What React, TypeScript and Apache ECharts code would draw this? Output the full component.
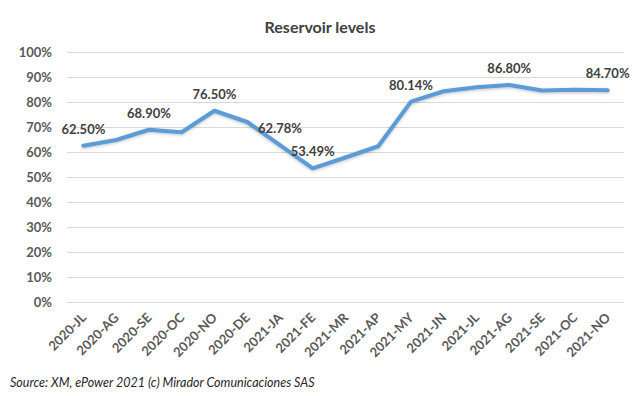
import React, { useEffect, useRef } from "react";
import * as echarts from "echarts";

const categories = [
  "2020-JL", "2020-AG", "2020-SE", "2020-OC", "2020-NO", "2020-DE",
  "2021-JA", "2021-FE", "2021-MR", "2021-AP", "2021-MY", "2021-JN",
  "2021-JL", "2021-AG", "2021-SE", "2021-OC", "2021-NO",
];
const levels = [
  62.5, 64.8, 68.9, 67.9, 76.5, 72.0, 62.78, 53.49, 57.8, 62.3, 80.14,
  84.3, 85.9, 86.8, 84.6, 84.9, 84.7,
];
const labeledIndices = [0, 2, 4, 6, 7, 10, 13, 16];
const yTicks = { min: 0, max: 100, interval: 10 };
const titleText = "Reservoir levels";
const sourceText = "Source: XM, ePower 2021 (c) Mirador Comunicaciones SAS";

const FONT = "Lato, 'Open Sans', sans-serif";

export default function App() {
  const ref = useRef<HTMLDivElement>(null);
  useEffect(() => {
    if (!ref.current) return;
    const chart = echarts.init(ref.current, null, { renderer: "svg" });
    chart.setOption({
      animation: false,
      backgroundColor: "#ffffff",
      title: {
        text: titleText,
        left: "center",
        top: 13,
        textStyle: { fontFamily: FONT, fontSize: 16, fontWeight: "bold", color: "#404040" },
      },
      graphic: [
        {
          type: "text",
          left: 10,
          top: 376,
          style: {
            text: sourceText,
            fontFamily: FONT,
            fontSize: 12.5,
            fontStyle: "italic",
            fill: "#262626",
          },
        },
      ],
      grid: { left: 67, right: 16, top: 52, bottom: 94 },
      xAxis: {
        type: "category",
        data: categories,
        boundaryGap: true,
        axisLine: { show: false },
        axisTick: { show: false },
        axisLabel: {
          rotate: 45,
          interval: 0,
          margin: 13,
          fontFamily: FONT,
          fontSize: 13,
          fontWeight: "bold",
          color: "#595959",
        },
      },
      yAxis: {
        type: "value",
        min: yTicks.min,
        max: yTicks.max,
        interval: yTicks.interval,
        axisLine: { show: false },
        axisTick: { show: false },
        splitLine: { lineStyle: { color: "#d9d9d9", width: 1 } },
        axisLabel: {
          formatter: "{value}%",
          margin: 15,
          fontFamily: FONT,
          fontSize: 13,
          fontWeight: "bold",
          color: "#595959",
        },
      },
      series: [
        {
          type: "line",
          data: levels.map((v, i) => ({
            value: v,
            label: { show: labeledIndices.includes(i) },
          })),
          symbol: "circle",
          symbolSize: 1,
          showSymbol: true,
          itemStyle: { color: "#5b9bd5" },
          lineStyle: {
            color: "#5b9bd5",
            width: 4,
            cap: "round",
            join: "round",
            shadowColor: "rgba(0,0,0,0.25)",
            shadowBlur: 3,
            shadowOffsetY: 1,
          },
          label: {
            show: false,
            position: "top",
            distance: 10,
            formatter: (p: any) => p.value.toFixed(2) + "%",
            fontFamily: FONT,
            fontSize: 13,
            fontWeight: "bold",
            color: "#404040",
          },
        },
      ],
    });
    return () => chart.dispose();
  }, []);
  return <div ref={ref} style={{ width: 640, height: 396, position: "absolute", left: 0, top: 0 }} />;
}
